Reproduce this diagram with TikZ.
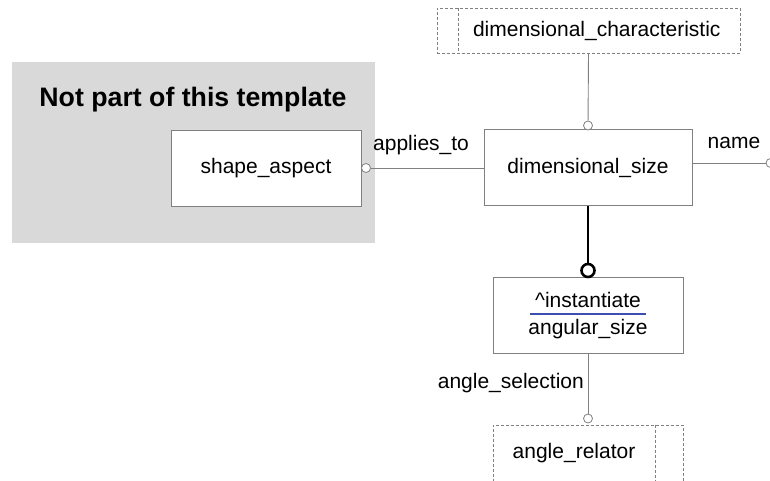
\documentclass[tikz,border=0pt]{standalone}
\usepackage{fontspec}
\setmainfont{Liberation Sans}
\usepackage{xcolor}
\usetikzlibrary{positioning,calc}

\definecolor{outsidegrey}{HTML}{D9D9D9}
\definecolor{edge}{HTML}{808080}
\definecolor{linkblue}{HTML}{3F4FB0}

\begin{document}
\begin{tikzpicture}[
			x=1pt, y=-1pt,
			entity/.style={
				draw=edge,
				fill=white,
				line width=0.9pt,
				align=center,
				minimum width=190pt,
				minimum height=76pt,
				inner sep=2pt,
				font=\fontsize{21}{27}\selectfont
			},
			refbox/.style={
				draw=edge,
				densely dashed,
				line width=0.6pt,
				fill=white,
				align=center,
				inner sep=2pt,
				font=\fontsize{21}{27}\selectfont
			},
			link/.style={
				draw=edge,
				line width=0.9pt
			},
			supertype/.style={
				draw=black,
				line width=2.6pt
			},
			port/.style={
				circle,
				draw=edge,
				fill=white,
				line width=0.8pt,
				inner sep=0pt,
				minimum size=9pt
			},
			superport/.style={
				circle,
				draw=black,
				fill=white,
				line width=2.6pt,
				inner sep=0pt,
				minimum size=13pt
			},
			role/.style={
				font=\fontsize{21}{25}\selectfont,
				inner sep=0pt
			}
			]
			
			\useasboundingbox (0,0) rectangle (770,481);
			\clip (0,0) rectangle (770,481);
			
			%=====================================================================
			% Outside the template
			%=====================================================================
			
			\fill[outsidegrey] (12,62) rectangle (375,243);
			
			\node[font=\bfseries\fontsize{26.7}{30}\selectfont] (outside)
			at (193,100) {Not part of this template};
			
			\node[entity] (aspect) at (266,168) {shape\_aspect};
			
			%=====================================================================
			% Template entities
			%=====================================================================
			
			\node[entity, minimum width=208pt] (dimsize)
			at (588,167.5) {dimensional\_size};
			
			\node[refbox, minimum width=303pt, minimum height=45pt,
			text width=264pt, align=right] (dimchar)
			at (588.5,30.5) {dimensional\_characteristic};
			
			\draw[refbox]
			([xshift=22pt]dimchar.north west)
			--
			([xshift=22pt]dimchar.south west);
			
			\node[entity] (angsize) at (588,315.5)
			{\^{}instantiate\\angular\_size};
			
			\node[refbox, minimum width=190pt, minimum height=76pt,
			text width=150pt, align=center] (relator)
			at (588,463) {};
			
			\node[font=\fontsize{21}{27}\selectfont] (relatortext)
			at (574,453) {angle\_relator};
			
			\draw[refbox]
			([xshift=-28pt]relator.north east)
			--
			([xshift=-28pt]relator.south east);
			
			\draw[draw=linkblue, line width=2pt] (530,314) -- (646,314);
			
			%=====================================================================
			% Relationships
			%=====================================================================
			
			\node[port] (aspectport) at (366,168) {};
			\node[port] (charport) at (588,125.5) {};
			\node[port] (nameport) at (770.5,163) {};
			\node[superport] (angport) at (588,270.5) {};
			\node[port] (relport) at (588,418.5) {};
			
			\draw[link] (aspectport) -- (aspectport -| dimsize.west);
			\draw[link] (charport) -- (dimchar.south);
			\draw[link] (nameport) -- (nameport -| dimsize.east);
			\draw[supertype] (dimsize.south) -- (angport);
			\draw[link] (angsize.south) -- (relport);
			
			\node[role, anchor=west] (appliesto) at (373,145) {applies\_to};
			\node[role] (name) at (734,143) {name};
			\node[role, anchor=east] (selection) at (584,383) {angle\_selection};
			
		\end{tikzpicture}
\end{document}
